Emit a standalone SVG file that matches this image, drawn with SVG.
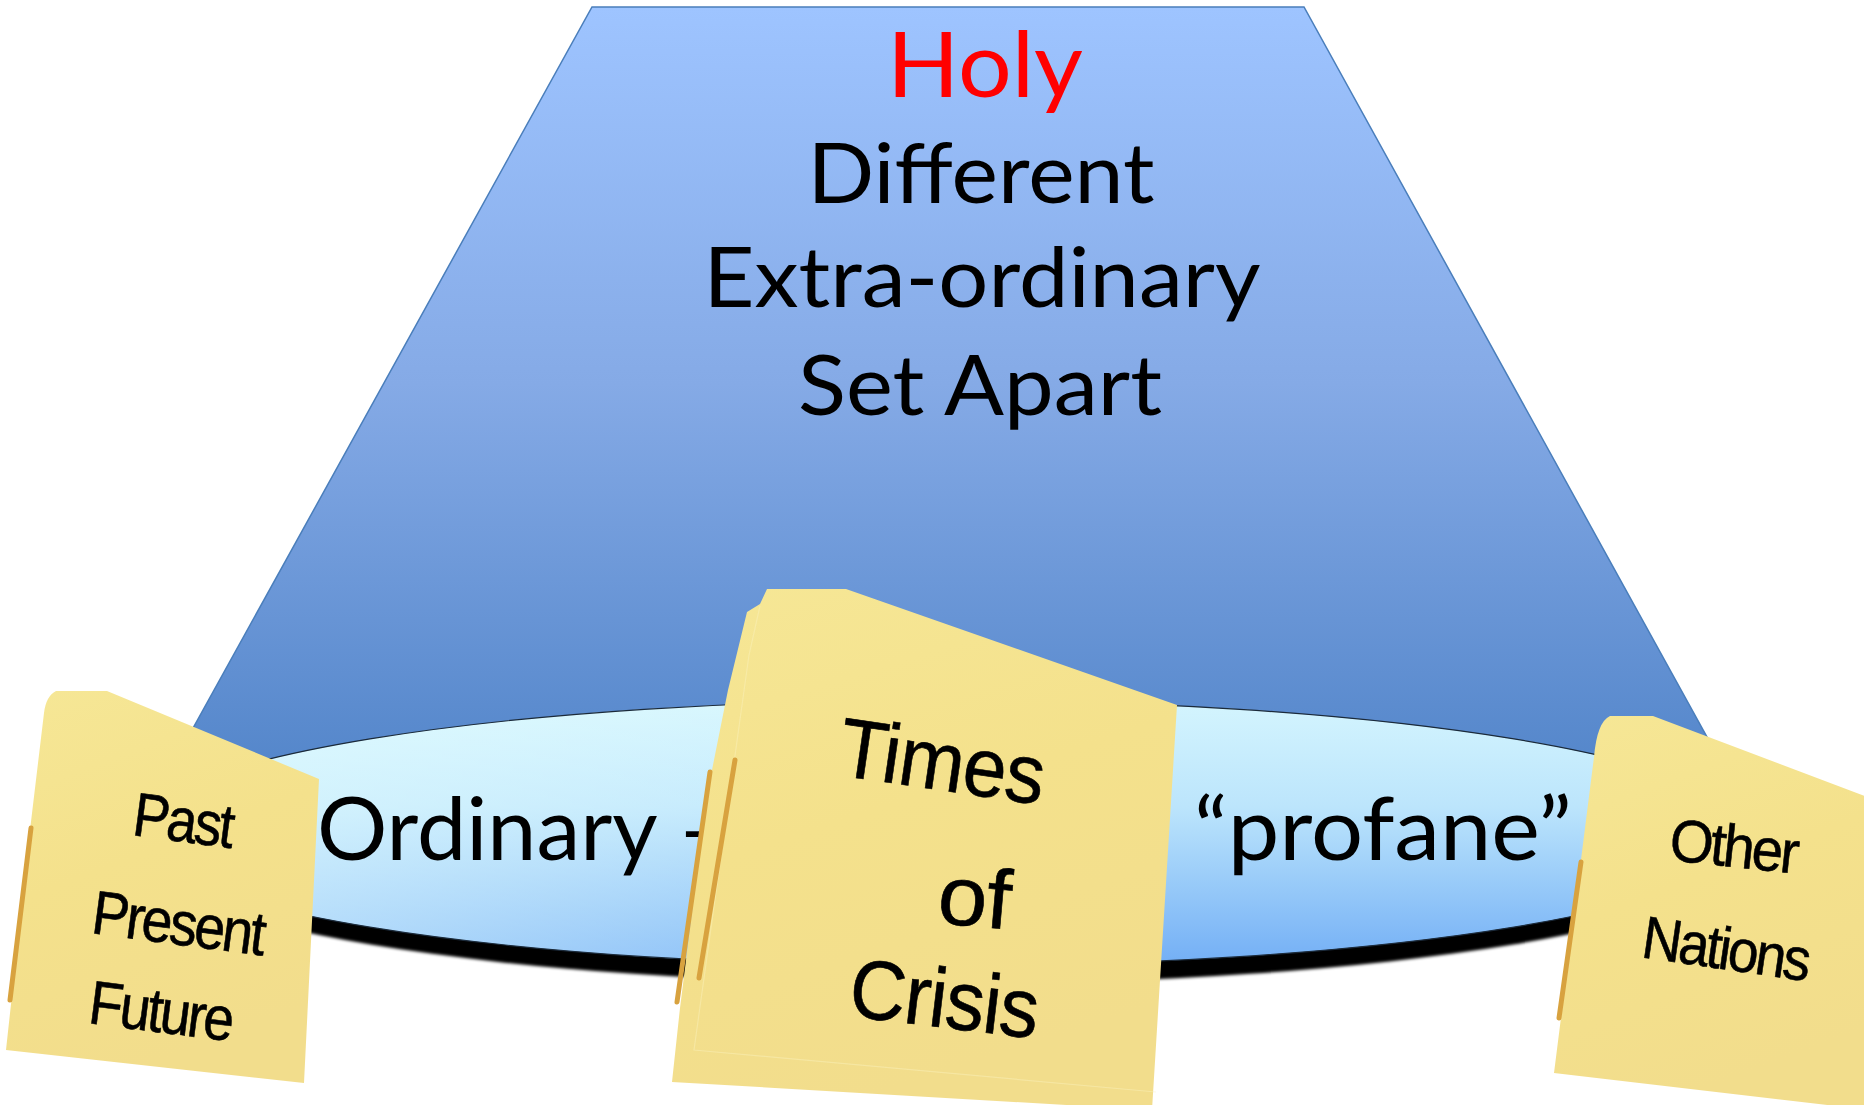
<svg xmlns="http://www.w3.org/2000/svg" width="1864" height="1105" viewBox="0 0 1864 1105">
<defs>
<linearGradient id="gTrap" gradientUnits="userSpaceOnUse" x1="0" y1="7" x2="0" y2="760">
<stop offset="0" stop-color="#9EC4FF"/>
<stop offset="0.5" stop-color="#85AAE6"/>
<stop offset="1" stop-color="#5587CB"/>
</linearGradient>
<linearGradient id="gDisk" gradientUnits="userSpaceOnUse" x1="0" y1="700" x2="0" y2="966">
<stop offset="0" stop-color="#D4F5FE"/>
<stop offset="0.4" stop-color="#BCE5FC"/>
<stop offset="1" stop-color="#72AEF5"/>
</linearGradient>
<linearGradient id="gDiskLight" gradientUnits="userSpaceOnUse" x1="300" y1="0" x2="1150" y2="0">
<stop offset="0" stop-color="#E8FFFF" stop-opacity="0.5"/>
<stop offset="1" stop-color="#E8FFFF" stop-opacity="0"/>
</linearGradient>
<linearGradient id="gNote" x1="0" y1="0" x2="0.3" y2="1">
<stop offset="0" stop-color="#F6E796"/>
<stop offset="0.5" stop-color="#F4E18C"/>
<stop offset="1" stop-color="#F2DD8C"/>
</linearGradient>
<filter id="fShadow" x="-5%" y="-20%" width="110%" height="140%">
<feGaussianBlur stdDeviation="1.6"/>
</filter>
<style>
.big{font-family:Lato,"Liberation Sans",sans-serif;font-size:83px;fill:#000;text-anchor:middle}
.disk{font-family:Lato,"Liberation Sans",sans-serif;font-size:87px;fill:#000}
.note{fill:url(#gNote)}
.edge{stroke:#D8A23F;stroke-width:5;stroke-linecap:round;fill:none}
.nt{font-family:"Liberation Sans",Arial,sans-serif;fill:#000;stroke:#000;stroke-width:0.6;letter-spacing:-3px}
.ntm{letter-spacing:-1px}
.faint{stroke:#FBF1BC;stroke-width:1.2;fill:none;opacity:0.45}
</style>
</defs>
<rect width="1864" height="1105" fill="#FFFFFF"/>

<g id="holy-trapezoid">
<polygon points="592,7 1304,7 1760,833 135,833" fill="url(#gTrap)" stroke="#4A7EBB" stroke-width="1.5"/>
<text x="985" y="97" class="big" style="font-size:92px;fill:#FF0000" textLength="196" lengthAdjust="spacingAndGlyphs">Holy</text>
<text x="981" y="203" class="big" textLength="347" lengthAdjust="spacingAndGlyphs">Different</text>
<text x="982" y="307" class="big" textLength="557" lengthAdjust="spacingAndGlyphs">Extra-ordinary</text>
<text x="980" y="415" class="big" textLength="364" lengthAdjust="spacingAndGlyphs">Set Apart</text>
</g>

<g id="ordinary-disk">
<ellipse cx="942" cy="850" rx="806" ry="134" fill="#000" filter="url(#fShadow)"/>
<ellipse cx="942" cy="833" rx="809" ry="133" fill="url(#gDisk)"/>
<ellipse cx="942" cy="833" rx="809" ry="133" fill="url(#gDiskLight)" stroke="#1B2A3A" stroke-width="1.2"/>
<text x="317" y="860" class="disk" textLength="412" lengthAdjust="spacingAndGlyphs">Ordinary –</text>
<text x="1194" y="860" class="disk" textLength="378" lengthAdjust="spacingAndGlyphs">“profane”</text>
</g>

<g id="connectors"></g>

<g id="note-past">
<path class="note" d="M56,691 L107,691 L319,779 L304,1083 L6,1050 L30,830 L44,713 Q46,696 56,691 Z"/>
<line class="edge" x1="31" y1="828" x2="10" y2="1000"/>
<text class="nt" transform="translate(131,835) rotate(7.5)" font-size="62" textLength="99" lengthAdjust="spacingAndGlyphs">Past</text>
<text class="nt" transform="translate(90,933) rotate(7.5)" font-size="62" textLength="172" lengthAdjust="spacingAndGlyphs">Present</text>
<text class="nt" transform="translate(87,1023) rotate(7.3)" font-size="62" textLength="143" lengthAdjust="spacingAndGlyphs">Future</text>
</g>

<g id="note-crisis">
<path class="note" d="M767,589 L846,589 L1177,705 L1152,1110 L672,1082 L680,1008 L706,800 L728,690 L747,612 L760,604 Z"/>
<path class="faint" d="M760,606 L749,655 L694,1050 L1156,1092"/>
<line class="edge" x1="710" y1="772" x2="677" y2="1002"/>
<line class="edge" x1="735" y1="760" x2="699" y2="978"/>
<text class="nt ntm" transform="translate(836,775) rotate(8.3)" font-size="84" textLength="206" lengthAdjust="spacingAndGlyphs">Times</text>
<text class="nt ntm" transform="translate(936,923) rotate(5)" font-size="84" textLength="72" lengthAdjust="spacingAndGlyphs">of</text>
<text class="nt ntm" transform="translate(847,1016) rotate(6.8)" font-size="84" textLength="189" lengthAdjust="spacingAndGlyphs">Crisis</text>
</g>

<g id="note-nations">
<path class="note" d="M1610,716 L1653,716 L1870,798 L1870,1110 L1554,1073 L1594,757 Q1597,722 1610,716 Z"/>
<line class="edge" x1="1581" y1="862" x2="1559" y2="1018"/>
<text class="nt" transform="translate(1668,860) rotate(6.1)" font-size="60" textLength="127" lengthAdjust="spacingAndGlyphs">Other</text>
<text class="nt" transform="translate(1640,957) rotate(8.3)" font-size="60" textLength="167" lengthAdjust="spacingAndGlyphs">Nations</text>
</g>
</svg>
